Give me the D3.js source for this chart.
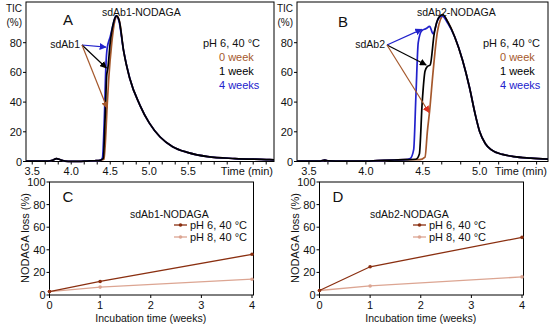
<!DOCTYPE html>
<html lang="en">
<head>
<meta charset="UTF-8">
<title>NODAGA stability</title>
<script src="https://cdn.jsdelivr.net/npm/d3@7"></script>
<style>
    body { margin: 0; background: #fff; }
    svg text { font-family: "Liberation Sans", Arial, sans-serif; fill: #111; }
</style>
</head>
<body>
<svg id="fig" width="550" height="327"></svg>
<script>
// ---- data ----
var ticTicks = [0, 20, 40, 60, 80];
var timeLabelsA = [3.5, 4.0, 4.5, 5.0, 5.5];
var timeLabelsB = [3.5, 4.0, 4.5, 5.0];

// panel A (sdAb1-NODAGA), time in min, TIC in %
var baseTA = [3.42, 3.7, 3.76, 3.81, 3.86, 3.92, 4.0, 4.1, 4.2, 4.3, 4.37];
var baseVA = [0.3, 0.3, 0.8, 2.0, 1.2, 0.3, 0.1, 0.1, 0.3, 0.5, 0.8];
var riseT_A0 = [4.42, 4.445, 4.46, 4.48, 4.52, 4.56, 4.585, 4.62];
var riseV_A0 = [1.5, 20, 37, 55, 80, 95, 97.5, 94];
var riseT_A1 = [4.41, 4.435, 4.455, 4.47, 4.5, 4.54, 4.58, 4.615];
var riseV_A1 = [2, 30, 58, 63, 80, 93, 98, 95];
var riseT_A4 = [4.40, 4.425, 4.445, 4.46, 4.5, 4.54, 4.575, 4.61];
var riseV_A4 = [2.5, 30, 65, 76, 84, 93, 98, 95];
var tailTA = [4.67, 4.75, 4.88, 5.0, 5.14, 5.3, 5.5, 5.75, 6.1, 6.5, 6.6];
var tailVA = [75, 56, 38, 26, 16.5, 10, 6, 3.3, 2, 1.3, 1.1];

// panel B (sdAb2-NODAGA)
var baseTB = [3.395, 3.6, 3.64, 3.67, 3.8, 4.0, 4.1, 4.25, 4.35];
var baseVB = [0.2, 0.3, 0.9, 0.4, 0.2, 0.3, 0.6, 1.0, 1.2];
var riseT_B0 = [4.47, 4.52, 4.54, 4.56, 4.59, 4.63, 4.68, 4.72];
var riseV_B0 = [1.2, 3, 20, 34, 60, 88, 98, 94];
var riseT_B1 = [4.44, 4.47, 4.495, 4.52, 4.54, 4.565, 4.6, 4.64, 4.675, 4.72];
var riseV_B1 = [1.5, 5, 40, 61, 64, 65, 86, 97, 99, 94];
var riseT_B4 = [4.39, 4.42, 4.44, 4.46, 4.49, 4.53, 4.56, 4.59, 4.63, 4.67, 4.72];
var riseV_B4 = [2, 8, 45, 80, 88, 89.5, 91, 86, 95, 98, 93];
var tailTB = [4.78, 4.85, 4.91, 4.96, 5.0, 5.05, 5.1, 5.2, 5.3, 5.45, 5.6];
var tailVB = [84, 68, 50, 32, 20, 12, 8, 4.8, 3.3, 2.3, 1.6];

// panels C and D, NODAGA loss (%) vs incubation time (weeks)
var weeks = [0, 1, 4];
var lossTicks = [0, 20, 40, 60, 80, 100];
var weekTicks = [0, 1, 2, 3, 4];
var lossC_pH6 = [3, 12, 36];
var lossC_pH8 = [3, 7, 14];
var lossD_pH6 = [4, 25, 51];
var lossD_pH8 = [4, 8, 16];

var weekNames = ["0 week", "1 week", "4 weeks"];
var weekColors = ["#a5582c", "#000000", "#2222cc"];
var pH6Color = "#8a2f10", pH8Color = "#dca592";

var svg = d3.select("#fig");

function series(bt, bv, rt, rv, tt, tv) {
    var t = bt.concat(rt).concat(tt), v = bv.concat(rv).concat(tv);
    return t.map(function(d, i) { return [d, v[i]]; });
}

var defs = svg.append("defs");
function marker(id, color) {
    defs.append("marker").attr("id", id)
        .attr("viewBox", "0 0 10 10").attr("refX", 9).attr("refY", 5)
        .attr("markerWidth", 7).attr("markerHeight", 7).attr("orient", "auto")
        .attr("markerUnits", "userSpaceOnUse")
        .append("path").attr("d", "M0,0L10,5L0,10Z").attr("fill", color);
}
marker("ab", "#2222cc"); marker("ak", "#000"); marker("ar", "#a5582c"); marker("ar2", "#dd3322");

function chrom(cfg) {
    var g = svg.append("g");
    var x = d3.scaleLinear().domain(cfg.xDom).range([cfg.left, cfg.right]);
    var y = d3.scaleLinear().domain([0, 100]).range([161.5, 13]);

    g.append("rect").attr("x", cfg.left).attr("y", 2)
        .attr("width", cfg.right - cfg.left).attr("height", 159.5)
        .attr("fill", "none").attr("stroke", "#000").attr("stroke-width", 1);

    // y ticks
    g.selectAll(".yt").data(ticTicks).enter().append("line")
        .attr("x1", cfg.left - 3).attr("x2", cfg.left)
        .attr("y1", function(d) { return y(d); }).attr("y2", function(d) { return y(d); })
        .attr("stroke", "#000");
    g.selectAll(".yl").data(ticTicks).enter().append("text")
        .attr("x", cfg.left - 4).attr("y", function(d) { return y(d) + 4; })
        .attr("text-anchor", "end").attr("font-size", 11).text(function(d) { return d; });
    g.append("text").attr("x", cfg.left - 4).attr("y", 12).attr("text-anchor", "end")
        .attr("font-size", 10).text("TIC");
    g.append("text").attr("x", cfg.left - 4).attr("y", 26).attr("text-anchor", "end")
        .attr("font-size", 10).text("(%)");

    // x ticks every 10 s
    var tk = d3.range(3.5, cfg.xDom[1], 1 / 6);
    g.selectAll(".xt").data(tk).enter().append("line")
        .attr("x1", function(d) { return x(d); }).attr("x2", function(d) { return x(d); })
        .attr("y1", 161.5).attr("y2", 164.5).attr("stroke", "#000");
    g.selectAll(".xl").data(cfg.labels).enter().append("text")
        .attr("x", function(d) { return x(d); }).attr("y", 175)
        .attr("text-anchor", "middle").attr("font-size", 11)
        .text(function(d) { return d.toFixed(1); });
    g.append("text").attr("x", cfg.right - 1).attr("y", 175).attr("text-anchor", "end")
        .attr("font-size", 11).text("Time (min)");

    var line = d3.line().x(function(d) { return x(d[0]); }).y(function(d) { return y(d[1]); })
        .curve(d3.curveMonotoneX);
    [0, 2, 1].forEach(function(i) {
        g.append("path").datum(cfg.data[i]).attr("d", line)
            .attr("fill", "none").attr("stroke", weekColors[i]).attr("stroke-width", 1.7)
            .attr("stroke-linejoin", "round");
    });

    g.append("text").attr("x", cfg.title[0]).attr("y", cfg.title[1]).attr("font-size", 10.5)
        .text(cfg.titleText);
    g.append("text").attr("x", cfg.letter[0]).attr("y", cfg.letter[1]).attr("font-size", 15)
        .text(cfg.letterText);

    // legend
    g.append("text").attr("x", cfg.leg[0]).attr("y", cfg.leg[1]).attr("font-size", 11)
        .text("pH 6, 40 \u00B0C");
    weekNames.forEach(function(n, i) {
        g.append("text").attr("x", cfg.leg[0] + cfg.legIndent).attr("y", cfg.leg[1] + 14 * (i + 1))
            .attr("font-size", 11).style("fill", weekColors[i]).text(n);
    });

    // arrows from the label
    g.append("text").attr("x", cfg.lab[0]).attr("y", cfg.lab[1]).attr("text-anchor", "end")
        .attr("font-size", 10.5).text(cfg.labText);
    var o = [cfg.lab[0] + 2, cfg.lab[1] - 3];
    cfg.arrows.forEach(function(a) {
        g.append("line").attr("x1", o[0]).attr("y1", o[1])
            .attr("x2", x(a.t)).attr("y2", y(a.v))
            .attr("stroke", a.c).attr("stroke-width", 1.2)
            .attr("marker-end", "url(#" + a.m + ")");
    });
}

chrom({
    left: 26, right: 274, xDom: [3.42, 6.6], labels: timeLabelsA,
    data: [series(baseTA, baseVA, riseT_A0, riseV_A0, tailTA, tailVA),
           series(baseTA, baseVA, riseT_A1, riseV_A1, tailTA, tailVA),
           series(baseTA, baseVA, riseT_A4, riseV_A4, tailTA, tailVA)],
    title: [102, 16], titleText: "sdAb1-NODAGA",
    letter: [63, 25], letterText: "A",
    leg: [203, 47], legIndent: 16,
    lab: [80, 48], labText: "sdAb1",
    arrows: [{t: 4.445, v: 77, c: "#2222cc", m: "ab"},
             {t: 4.45, v: 63, c: "#000", m: "ak"},
             {t: 4.46, v: 36, c: "#a5582c", m: "ar"}]
});

chrom({
    left: 297, right: 548, xDom: [3.395, 5.6], labels: timeLabelsB,
    data: [series(baseTB, baseVB, riseT_B0, riseV_B0, tailTB, tailVB),
           series(baseTB, baseVB, riseT_B1, riseV_B1, tailTB, tailVB),
           series(baseTB, baseVB, riseT_B4, riseV_B4, tailTB, tailVB)],
    title: [417, 16], titleText: "sdAb2-NODAGA",
    letter: [338, 27], letterText: "B",
    leg: [483, 47], legIndent: 17,
    lab: [385, 48], labText: "sdAb2",
    arrows: [{t: 4.49, v: 89, c: "#2222cc", m: "ab"},
             {t: 4.53, v: 65, c: "#000", m: "ak"},
             {t: 4.555, v: 33, c: "#a5582c", m: "ar2"}]
});

function loss(cfg) {
    var g = svg.append("g");
    var x = d3.scaleLinear().domain([0, 4]).range([cfg.left, cfg.left + 202.5]);
    var y = d3.scaleLinear().domain([0, 100]).range([295, 182]);

    g.append("rect").attr("x", cfg.left).attr("y", 182)
        .attr("width", 204).attr("height", 113)
        .attr("fill", "none").attr("stroke", "#000");

    g.selectAll(".yt").data(lossTicks).enter().append("line")
        .attr("x1", cfg.left - 3).attr("x2", cfg.left)
        .attr("y1", function(d) { return y(d); }).attr("y2", function(d) { return y(d); })
        .attr("stroke", "#000");
    g.selectAll(".yl").data(lossTicks).enter().append("text")
        .attr("x", cfg.left - 4).attr("y", function(d) { return y(d) + 4; })
        .attr("text-anchor", "end").attr("font-size", 11).text(function(d) { return d; });
    g.selectAll(".xt").data(weekTicks).enter().append("line")
        .attr("x1", function(d) { return x(d); }).attr("x2", function(d) { return x(d); })
        .attr("y1", 295).attr("y2", 298).attr("stroke", "#000");
    g.selectAll(".xl").data(weekTicks).enter().append("text")
        .attr("x", function(d) { return x(d); }).attr("y", 309)
        .attr("text-anchor", "middle").attr("font-size", 11).text(function(d) { return d; });

    g.append("text").attr("x", x(2)).attr("y", 322).attr("text-anchor", "middle")
        .attr("font-size", 10.5).text("Incubation time (weeks)");
    g.append("text").attr("transform", "translate(" + (cfg.left - 21) + ",238) rotate(-90)")
        .attr("text-anchor", "middle").attr("font-size", 11).text("NODAGA loss (%)");
    g.append("text").attr("x", cfg.left + 13).attr("y", 202).attr("font-size", 15).text(cfg.letterText);

    var line = d3.line().x(function(d, i) { return x(weeks[i]); }).y(function(d) { return y(d); });
    [[cfg.pH8, pH8Color], [cfg.pH6, pH6Color]].forEach(function(s) {
        g.append("path").datum(s[0]).attr("d", line).attr("fill", "none")
            .attr("stroke", s[1]).attr("stroke-width", 1.3);
        g.selectAll(null).data(s[0]).enter().append("circle")
            .attr("cx", function(d, i) { return x(weeks[i]); }).attr("cy", function(d) { return y(d); })
            .attr("r", 1.8).attr("fill", s[1]);
    });

    // legend
    g.append("text").attr("x", cfg.leg[0]).attr("y", 218).attr("font-size", 10.5).text(cfg.title);
    [["pH 6, 40 \u00B0C", pH6Color, 225], ["pH 8, 40 \u00B0C", pH8Color, 237]].forEach(function(l) {
        g.append("line").attr("x1", cfg.leg[1]).attr("x2", cfg.leg[1] + 13)
            .attr("y1", l[2]).attr("y2", l[2]).attr("stroke", l[1]).attr("stroke-width", 1.3);
        g.append("circle").attr("cx", cfg.leg[1] + 6.5).attr("cy", l[2]).attr("r", 1.8).attr("fill", l[1]);
        g.append("text").attr("x", cfg.leg[1] + 16).attr("y", l[2] + 4).attr("font-size", 11).text(l[0]);
    });
}

loss({left: 49.5, letterText: "C", title: "sdAb1-NODAGA", leg: [130, 174],
      pH6: lossC_pH6, pH8: lossC_pH8});
loss({left: 319.5, letterText: "D", title: "sdAb2-NODAGA", leg: [370, 413],
      pH6: lossD_pH6, pH8: lossD_pH8});
</script>
</body>
</html>
